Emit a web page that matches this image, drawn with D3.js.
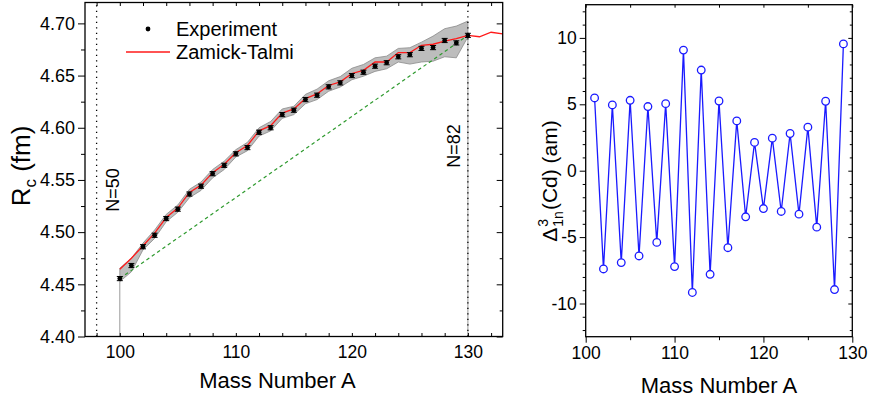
<!DOCTYPE html>
<html>
<head>
<meta charset="utf-8">
<script src="https://cdn.jsdelivr.net/npm/d3@7"></script>
<style>
  body { margin: 0; background: #fff; }
  svg { display: block; font-family: "Liberation Sans", Arial, sans-serif; }
  .domain { display: none; }
</style>
</head>
<body>
<script>
// left panel: charge radii of Cd isotopes
var massA = [100,101,102,103,104,105,106,107,108,109,110,111,112,113,114,115,
  116,117,118,119,120,121,122,123,124,125,126,127,128,129,130]
var expR = [4.4555,4.468,4.486,4.497,4.513,4.522,4.5365,4.544,4.556,4.564,4.575,
  4.581,4.5957,4.600,4.6126,4.6168,4.627,4.6312,4.6392,4.643,4.650,4.6532,4.659,
  4.6623,4.668,4.670,4.676,4.6768,4.6836,4.6813,4.6885]
var expErr = [0.002,0.002,0.002,0.002,0.002,0.002,0.002,0.002,0.002,0.002,0.002,
  0.002,0.002,0.002,0.002,0.002,0.002,0.002,0.002,0.002,0.002,0.002,0.002,0.002,
  0.002,0.002,0.002,0.002,0.002,0.002,0.002]
var ztA = [100,101,102,103,104,105,106,107,108,109,110,111,112,113,114,115,116,
  117,118,119,120,121,122,123,124,125,126,127,128,129,130,131,132,133,134]
var ztR = [4.4645,4.475,4.487,4.499,4.514,4.523,4.538,4.545,4.557,4.565,4.576,
  4.583,4.597,4.602,4.614,4.618,4.628,4.6325,4.6405,4.644,4.652,4.655,4.663,4.663,
  4.672,4.672,4.679,4.680,4.683,4.6853,4.6885,4.6872,4.6915,4.690,4.688]
var bandHi = [4.4655,4.475,4.4895,4.502,4.517,4.526,4.541,4.548,4.560,4.568,4.579,
  4.586,4.600,4.606,4.618,4.6206,4.632,4.637,4.645,4.649,4.657,4.6606,4.667,4.6686,
  4.676,4.6767,4.682,4.6878,4.6949,4.6974,4.7022]
var bandLo = [4.4526,4.462,4.483,4.494,4.510,4.519,4.533,4.540,4.552,4.560,4.572,
  4.578,4.592,4.597,4.609,4.6126,4.623,4.627,4.635,4.639,4.646,4.6494,4.654,4.6565,
  4.663,4.661,4.663,4.6638,4.668,4.667,4.687]
var linA = [100, 130]
var linR = [4.4555, 4.6885]
var shellA = [98, 130]
var shellLabels = ["N=50", "N=82"]

// right panel: odd-even staggering
var deltaA = [101,102,103,104,105,106,107,108,109,110,111,112,113,114,115,116,
  117,118,119,120,121,122,123,124,125,126,127,128,129]
var delta = [5.48,-7.4,4.95,-6.92,5.3,-6.42,4.83,-5.4,5.05,-7.22,9.08,-9.17,7.58,
  -7.8,5.25,-5.8,3.75,-3.47,2.13,-2.85,2.45,-3.07,2.8,-3.27,3.28,-4.25,5.23,-8.95,9.55]

var leftXTicks = [100,110,120,130]
var leftYTicks = [4.40,4.45,4.50,4.55,4.60,4.65,4.70]
var rightXTicks = [100,110,120,130]
var rightYTicks = [-10,-5,0,5,10]

var svg = d3.select("body").append("svg")
  .attr("width", 870).attr("height", 402)

var font = "Liberation Sans, Arial, sans-serif"

// ---------- left panel ----------
var L = {left: 85, right: 502.7, top: 2.5, bottom: 336.5}
var xL = d3.scaleLinear().domain([97,133]).range([L.left, L.right])
var yL = d3.scaleLinear().domain([4.40,4.72]).range([L.bottom, L.top])

svg.append("clipPath").attr("id", "clipL").append("rect")
  .attr("x", L.left).attr("y", L.top)
  .attr("width", L.right - L.left).attr("height", L.bottom - L.top)

var gL = svg.append("g").attr("clip-path", "url(#clipL)")

// shaded band
var band = d3.area()
  .x(function(d, i) { return xL(massA[i]) })
  .y0(function(d, i) { return yL(bandLo[i]) })
  .y1(function(d, i) { return yL(bandHi[i]) })
gL.append("path").datum(massA).attr("d", band)
  .attr("fill", "#bdbdbd").attr("stroke", "#8a8a8a").attr("stroke-width", 0.8)

// gray drop lines at the ends of the band
gL.append("line")
  .attr("x1", xL(massA[0])).attr("x2", xL(massA[0]))
  .attr("y1", yL(4.40)).attr("y2", yL(bandLo[0]))
  .attr("stroke", "#9a9a9a").attr("stroke-width", 1)
gL.append("line")
  .attr("x1", xL(massA[massA.length-1])).attr("x2", xL(massA[massA.length-1]))
  .attr("y1", yL(4.40)).attr("y2", yL(bandLo[bandLo.length-1]))
  .attr("stroke", "#9a9a9a").attr("stroke-width", 1)

// shell closures
shellA.forEach(function(a) {
  gL.append("line")
    .attr("x1", xL(a)).attr("x2", xL(a))
    .attr("y1", yL(4.40)).attr("y2", yL(4.72))
    .attr("stroke", "#000").attr("stroke-width", 1.3)
    .attr("stroke-dasharray", "1.3,4.2")
})

// linear reference
gL.append("line")
  .attr("x1", xL(linA[0])).attr("y1", yL(linR[0]))
  .attr("x2", xL(linA[1])).attr("y2", yL(linR[1]))
  .attr("stroke", "#2e9a2e").attr("stroke-width", 1.2)
  .attr("stroke-dasharray", "3.5,3")

// Zamick-Talmi
var zline = d3.line()
  .x(function(d, i) { return xL(ztA[i]) })
  .y(function(d, i) { return yL(ztR[i]) })
gL.append("path").datum(ztA).attr("d", zline)
  .attr("fill", "none").attr("stroke", "#ff1a1a").attr("stroke-width", 1.3)

// experiment
var pts = gL.append("g").selectAll("g").data(massA).enter().append("g")
pts.append("line")
  .attr("x1", function(d) { return xL(d) }).attr("x2", function(d) { return xL(d) })
  .attr("y1", function(d, i) { return yL(expR[i] - expErr[i]) })
  .attr("y2", function(d, i) { return yL(expR[i] + expErr[i]) })
  .attr("stroke", "#000").attr("stroke-width", 1)
pts.append("line")
  .attr("x1", function(d) { return xL(d) - 3 }).attr("x2", function(d) { return xL(d) + 3 })
  .attr("y1", function(d, i) { return yL(expR[i] - expErr[i]) })
  .attr("y2", function(d, i) { return yL(expR[i] - expErr[i]) })
  .attr("stroke", "#000").attr("stroke-width", 1)
pts.append("line")
  .attr("x1", function(d) { return xL(d) - 3 }).attr("x2", function(d) { return xL(d) + 3 })
  .attr("y1", function(d, i) { return yL(expR[i] + expErr[i]) })
  .attr("y2", function(d, i) { return yL(expR[i] + expErr[i]) })
  .attr("stroke", "#000").attr("stroke-width", 1)
pts.append("circle")
  .attr("cx", function(d) { return xL(d) })
  .attr("cy", function(d, i) { return yL(expR[i]) })
  .attr("r", 2.4).attr("fill", "#000")

// shell labels
var shellPos = [[xL(98) + 22, 190], [xL(130) - 8, 146]]
shellA.forEach(function(a, i) {
  svg.append("text")
    .attr("transform", "translate(" + shellPos[i][0] + "," + shellPos[i][1] + ") rotate(-90)")
    .attr("text-anchor", "middle")
    .attr("font-size", 18)
    .text(shellLabels[i])
})

// legend
svg.append("circle").attr("cx", 148).attr("cy", 29).attr("r", 2.4).attr("fill", "#000")
svg.append("text").attr("x", 176).attr("y", 36).attr("font-size", 20).text("Experiment")
svg.append("line").attr("x1", 126).attr("x2", 170).attr("y1", 52).attr("y2", 52)
  .attr("stroke", "#ff1a1a").attr("stroke-width", 1.3)
svg.append("text").attr("x", 176).attr("y", 59).attr("font-size", 20).text("Zamick-Talmi")

// axes left
function styleAxis(g) {
  g.selectAll("line").attr("stroke", "#000").attr("stroke-width", 1)
  g.selectAll("text").attr("fill", "#000").style("font-family", font)
}
var xMinorL = d3.range(98, 133, 2)
var yMinorL = d3.range(4.425, 4.72, 0.05)

svg.append("g").attr("transform", "translate(0," + L.bottom + ")")
  .call(d3.axisBottom(xL).tickValues(leftXTicks).tickSize(0).tickPadding(9)
    .tickFormat(d3.format("d")))
  .call(styleAxis).selectAll("text").attr("font-size", 17.5)
svg.append("g").attr("transform", "translate(0," + L.bottom + ")")
  .call(d3.axisBottom(xL).tickValues(xMinorL).tickSize(-3.5).tickFormat(""))
  .call(styleAxis)
svg.append("g").attr("transform", "translate(0," + L.top + ")")
  .call(d3.axisTop(xL).tickValues(xMinorL).tickSize(-3.5).tickFormat(""))
  .call(styleAxis)
svg.append("g").attr("transform", "translate(" + L.left + ",0)")
  .call(d3.axisLeft(yL).tickValues(leftYTicks).tickSize(7).tickPadding(3)
    .tickFormat(d3.format(".2f")))
  .call(styleAxis).selectAll("text").attr("font-size", 18)
svg.append("g").attr("transform", "translate(" + L.left + ",0)")
  .call(d3.axisLeft(yL).tickValues(yMinorL).tickSize(4).tickFormat(""))
  .call(styleAxis)
svg.append("g").attr("transform", "translate(" + L.right + ",0)")
  .call(d3.axisRight(yL).tickValues(leftYTicks).tickSize(-6).tickFormat(""))
  .call(styleAxis)
svg.append("g").attr("transform", "translate(" + L.right + ",0)")
  .call(d3.axisRight(yL).tickValues(yMinorL).tickSize(-3).tickFormat(""))
  .call(styleAxis)
svg.append("rect").attr("x", L.left).attr("y", L.top)
  .attr("width", L.right - L.left).attr("height", L.bottom - L.top)
  .attr("fill", "none").attr("stroke", "#000").attr("stroke-width", 1.3)

svg.append("text").attr("x", 277.5).attr("y", 388).attr("text-anchor", "middle")
  .attr("font-size", 22).text("Mass Number A")

var yLab = svg.append("text")
  .attr("transform", "translate(30,166) rotate(-90)")
  .attr("text-anchor", "middle").attr("font-size", 26)
yLab.append("tspan").text("R")
yLab.append("tspan").attr("font-size", 17).attr("dy", 6).text("c")
yLab.append("tspan").attr("dy", -6).text(" (fm)")

// ---------- right panel ----------
var R = {left: 585.7, right: 852.3, top: 4.7, bottom: 336.7}
var xR = d3.scaleLinear().domain([100,130]).range([R.left, R.right])
var yR = d3.scaleLinear().domain([-12.5,12.5]).range([R.bottom, R.top])

var dline = d3.line()
  .x(function(d, i) { return xR(deltaA[i]) })
  .y(function(d, i) { return yR(delta[i]) })
svg.append("path").datum(deltaA).attr("d", dline)
  .attr("fill", "none").attr("stroke", "#1a1aff").attr("stroke-width", 1.3)
svg.append("g").selectAll("circle").data(deltaA).enter().append("circle")
  .attr("cx", function(d) { return xR(d) })
  .attr("cy", function(d, i) { return yR(delta[i]) })
  .attr("r", 3.8).attr("fill", "#fff")
  .attr("stroke", "#1a1aff").attr("stroke-width", 1.3)

var xMinorR = [105, 115, 125]
var yMinorR = d3.range(-12, 13, 1).filter(function(v) { return v % 5 != 0 })

svg.append("g").attr("transform", "translate(0," + R.bottom + ")")
  .call(d3.axisBottom(xR).tickValues(rightXTicks).tickSize(6).tickPadding(4)
    .tickFormat(d3.format("d")))
  .call(styleAxis).selectAll("text").attr("font-size", 17.5)
svg.append("g").attr("transform", "translate(0," + R.bottom + ")")
  .call(d3.axisBottom(xR).tickValues(xMinorR).tickSize(3.5).tickFormat(""))
  .call(styleAxis)
svg.append("g").attr("transform", "translate(0," + R.top + ")")
  .call(d3.axisTop(xR).tickValues(rightXTicks.concat(xMinorR)).tickSize(-3).tickFormat(""))
  .call(styleAxis)
svg.append("g").attr("transform", "translate(" + R.left + ",0)")
  .call(d3.axisLeft(yR).tickValues(rightYTicks).tickSize(6).tickPadding(3)
    .tickFormat(function(d) { return d < 0 ? "-" + Math.abs(d) : d }))
  .call(styleAxis).selectAll("text").attr("font-size", 17.5)
svg.append("g").attr("transform", "translate(" + R.left + ",0)")
  .call(d3.axisLeft(yR).tickValues(yMinorR).tickSize(3).tickFormat(""))
  .call(styleAxis)
svg.append("g").attr("transform", "translate(" + R.right + ",0)")
  .call(d3.axisRight(yR).tickValues(rightYTicks).tickSize(-4).tickFormat(""))
  .call(styleAxis)
svg.append("g").attr("transform", "translate(" + R.right + ",0)")
  .call(d3.axisRight(yR).tickValues(yMinorR).tickSize(-2.5).tickFormat(""))
  .call(styleAxis)
svg.append("rect").attr("x", R.left).attr("y", R.top)
  .attr("width", R.right - R.left).attr("height", R.bottom - R.top)
  .attr("fill", "none").attr("stroke", "#000").attr("stroke-width", 1.3)

svg.append("text").attr("x", (R.left + R.right) / 2).attr("y", 393).attr("text-anchor", "middle")
  .attr("font-size", 22).text("Mass Number A")

// delta label, built piece by piece
var dg = svg.append("g").attr("transform", "translate(557,181) rotate(-90)")
var t1 = dg.append("text").attr("font-size", 21).text("\u0394")
var w1 = t1.node().getComputedTextLength()
var sup = dg.append("text").attr("x", w1 + 1).attr("y", -9).attr("font-size", 14).text("3")
var sub = dg.append("text").attr("x", w1 + 1).attr("y", 6).attr("font-size", 14).text("1n")
var w2 = Math.max(sup.node().getComputedTextLength(), sub.node().getComputedTextLength())
var t2 = dg.append("text").attr("x", w1 + w2 + 2).attr("font-size", 21).text("(Cd) (am)")
var total = w1 + w2 + 2 + t2.node().getComputedTextLength()
dg.selectAll("text").attr("transform", "translate(" + (-total / 2) + ",0)")
</script>
</body>
</html>
